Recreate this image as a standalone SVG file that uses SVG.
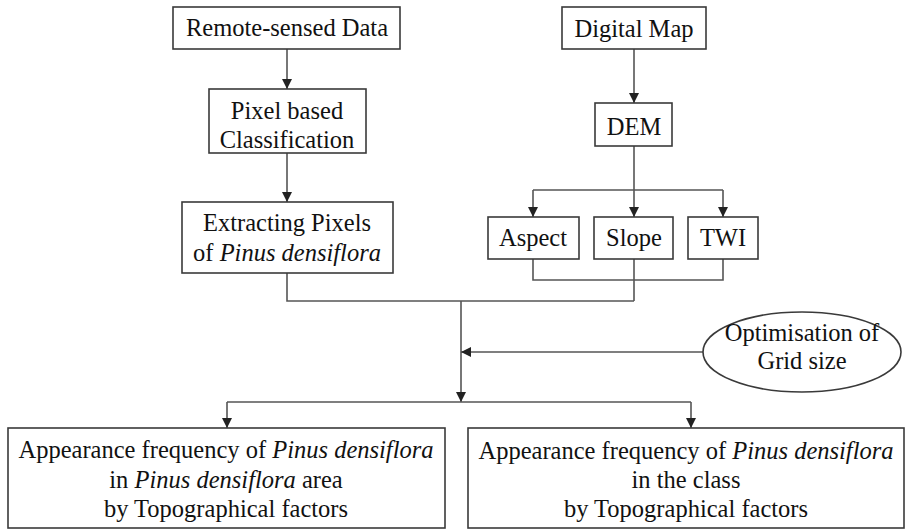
<svg xmlns="http://www.w3.org/2000/svg" width="906" height="530" viewBox="0 0 906 530">
<style>
.box{fill:#fff;stroke:#3a3a3a;stroke-width:1.6}
.ln{fill:none;stroke:#555;stroke-width:1.6}
.t text{font-size:24.5px;fill:#111;text-anchor:middle}
.i{font-style:italic}
</style>
<defs>
<marker id="ah" viewBox="0 0 10 10" refX="10" refY="5" markerWidth="10" markerHeight="10" markerUnits="userSpaceOnUse" orient="auto">
<path d="M0,0 L10,5 L0,10 z" fill="#222"/>
</marker>
</defs>
<rect width="906" height="530" fill="#fff"/>
<g id="connectors">
<line class="ln" x1="287" y1="49" x2="287" y2="89" marker-end="url(#ah)"/>
<line class="ln" x1="287" y1="153" x2="287" y2="202" marker-end="url(#ah)"/>
<line class="ln" x1="634" y1="49" x2="634" y2="103" marker-end="url(#ah)"/>
<line class="ln" x1="634" y1="146" x2="634" y2="190"/>
<line class="ln" x1="533" y1="190" x2="723" y2="190"/>
<line class="ln" x1="533" y1="190" x2="533" y2="217" marker-end="url(#ah)"/>
<line class="ln" x1="634" y1="190" x2="634" y2="217" marker-end="url(#ah)"/>
<line class="ln" x1="723" y1="190" x2="723" y2="217" marker-end="url(#ah)"/>
<polyline class="ln" points="533,259 533,280 723,280 723,259"/>
<line class="ln" x1="634" y1="259" x2="634" y2="301"/>
<polyline class="ln" points="287,273 287,301 634,301"/>
<line class="ln" x1="461" y1="301" x2="461" y2="402" marker-end="url(#ah)"/>
<line class="ln" x1="703" y1="352" x2="461" y2="352" marker-end="url(#ah)"/>
<line class="ln" x1="227" y1="402" x2="691" y2="402"/>
<line class="ln" x1="227" y1="402" x2="227" y2="428" marker-end="url(#ah)"/>
<line class="ln" x1="691" y1="402" x2="691" y2="428" marker-end="url(#ah)"/>
</g>
<g class="t" font-family="Liberation Serif, DejaVu Serif, serif">
<g id="remote">
<rect class="box" x="173" y="7" width="227" height="42"/>
<text x="287" y="36">Remote-sensed Data</text>
</g>
<g id="pixel">
<rect class="box" x="209" y="89" width="157" height="64"/>
<text x="287" y="119">Pixel based</text>
<text x="287" y="148">Classification</text>
</g>
<g id="extract">
<rect class="box" x="182" y="202" width="211" height="71"/>
<text x="287" y="231">Extracting Pixels</text>
<text x="287" y="261">of <tspan class="i">Pinus densiflora</tspan></text>
</g>
<g id="digital">
<rect class="box" x="562" y="7" width="144" height="42"/>
<text x="634" y="37">Digital Map</text>
</g>
<g id="dem">
<rect class="box" x="595" y="103" width="77" height="43"/>
<text x="634" y="135">DEM</text>
</g>
<g id="aspect">
<rect class="box" x="488" y="217" width="91" height="42"/>
<text x="533" y="246">Aspect</text>
</g>
<g id="slope">
<rect class="box" x="594" y="217" width="79" height="42"/>
<text x="634" y="246">Slope</text>
</g>
<g id="twi">
<rect class="box" x="688" y="217" width="70" height="42"/>
<text x="723" y="246">TWI</text>
</g>
<g id="optim">
<ellipse class="box" cx="802" cy="352" rx="99" ry="40"/>
<text x="802" y="341">Optimisation of</text>
<text x="802" y="369">Grid size</text>
</g>
<g id="freqA">
<rect class="box" x="8" y="428" width="437" height="100"/>
<text x="226" y="458">Appearance frequency of <tspan class="i">Pinus densiflora</tspan></text>
<text x="226" y="488">in <tspan class="i">Pinus densiflora</tspan> area</text>
<text x="226" y="517">by Topographical factors</text>
</g>
<g id="freqB">
<rect class="box" x="468" y="428" width="436" height="100"/>
<text x="686" y="459">Appearance frequency of <tspan class="i">Pinus densiflora</tspan></text>
<text x="686" y="488">in the class</text>
<text x="686" y="517">by Topographical factors</text>
</g>
</g>
</svg>
